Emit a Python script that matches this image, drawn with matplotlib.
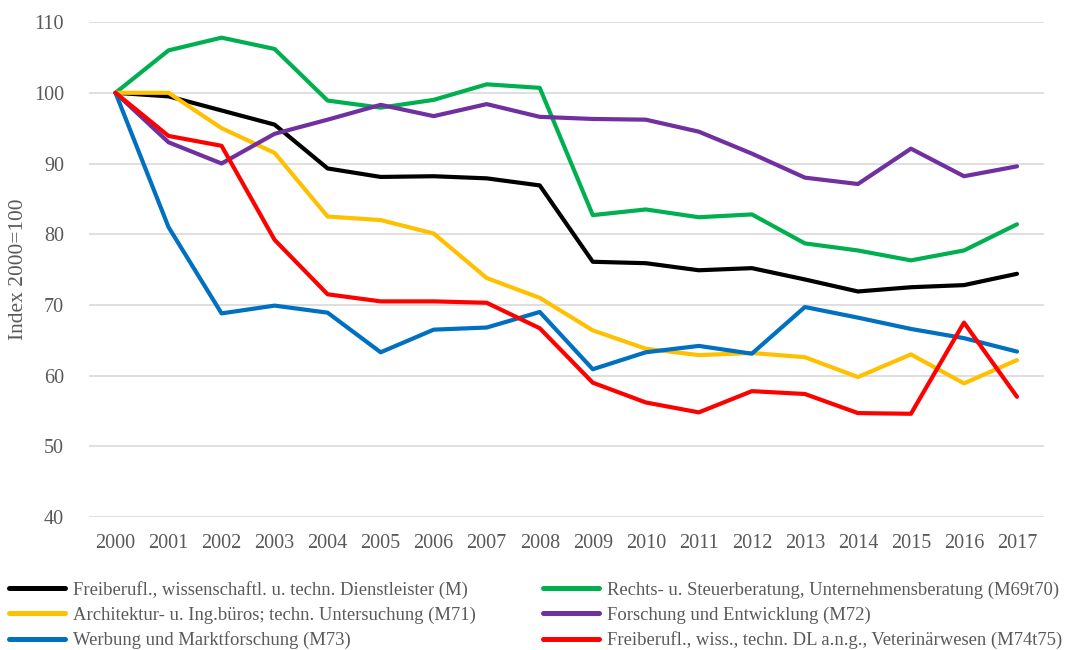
#!/usr/bin/env python3
"""Index 2000=100: freiberufliche, wissenschaftliche u. technische Dienstleister."""

import matplotlib.pyplot as plt
from matplotlib.lines import Line2D

plt.rcParams["font.family"] = ["Liberation Serif", "DejaVu Serif"]

YEARS = [str(y) for y in range(2000, 2018)]

M = [100, 99.5, 97.5, 95.5, 89.3, 88.1, 88.2, 87.9, 86.9,
     76.1, 75.9, 74.9, 75.2, 73.6, 71.9, 72.5, 72.8, 74.4]
M69T70 = [100, 106.0, 107.8, 106.2, 98.9, 97.9, 99.0, 101.2, 100.7,
          82.7, 83.5, 82.4, 82.8, 78.7, 77.7, 76.3, 77.7, 81.4]
M71 = [100, 100.0, 95.0, 91.5, 82.5, 82.0, 80.1, 73.8, 71.0,
       66.4, 63.8, 62.9, 63.2, 62.6, 59.8, 63.0, 58.9, 62.2]
M72 = [100, 93.0, 90.0, 94.2, 96.2, 98.3, 96.7, 98.4, 96.6,
       96.3, 96.2, 94.5, 91.4, 88.0, 87.1, 92.1, 88.2, 89.6]
M73 = [100, 81.0, 68.8, 69.9, 68.9, 63.3, 66.5, 66.8, 69.0,
       60.9, 63.3, 64.2, 63.1, 69.7, 68.2, 66.6, 65.3, 63.4]
M74T75 = [100, 93.9, 92.5, 79.2, 71.5, 70.5, 70.5, 70.3, 66.7,
          59.0, 56.2, 54.8, 57.8, 57.4, 54.7, 54.6, 67.5, 57.0]

# (values, legend, color)
SERIES = (
    (M, "Freiberufl., wissenschaftl. u. techn. Dienstleister (M)", "#000000"),
    (M69T70, "Rechts- u. Steuerberatung, Unternehmensberatung (M69t70)", "#00B050"),
    (M71, "Architektur- u. Ing.büros; techn. Untersuchung (M71)", "#FFC000"),
    (M72, "Forschung und Entwicklung (M72)", "#7030A0"),
    (M73, "Werbung und Marktforschung (M73)", "#0070C0"),
    (M74T75, "Freiberufl., wiss., techn. DL a.n.g., Veterinärwesen (M74t75)", "#FF0000"),
)

TEXT = "#595959"


def main() -> None:
    fig = plt.figure(figsize=(10.67, 6.5), dpi=100)
    ax = fig.add_axes([0.0834, 0.2046, 0.8946, 0.7614])

    x = list(range(len(YEARS)))
    handles = []
    for vals, label, color in SERIES:
        ax.plot(x, vals, color=color, linewidth=3.0, solid_joinstyle="round",
                solid_capstyle="round")
        handles.append(Line2D([], [], color=color, linewidth=3.6,
                              solid_capstyle="round", label=label))

    ax.set_xlim(-0.5, len(YEARS) - 0.5)
    ax.set_ylim(40, 110)
    ax.set_yticks(range(40, 111, 10))
    ax.set_xticks(x)
    ax.set_xticklabels(YEARS)
    ax.tick_params(axis="both", length=0, labelsize=14.5, colors=TEXT)
    ax.tick_params(axis="x", pad=12)
    ax.tick_params(axis="y", pad=18)
    ax.grid(True, axis="y", color="#D9D9D9", linewidth=1.2)
    ax.set_axisbelow(True)
    for s in ax.spines.values():
        s.set_visible(False)
    ax.set_ylabel("Index 2000=100", fontsize=15.4, color=TEXT, labelpad=4)

    # row-wise order as in the original (matplotlib fills columns first)
    order = [0, 2, 4, 1, 3, 5]
    leg = fig.legend([handles[i] for i in order],
                     [handles[i].get_label() for i in order],
                     loc="upper left", bbox_to_anchor=(0.0084, 1 - 581 / 650),
                     ncol=2, frameon=False, fontsize=13.4, handlelength=3.0,
                     handletextpad=0.43, columnspacing=3.6, labelspacing=0.4,
                     borderaxespad=0.0, borderpad=0.0)
    for t in leg.get_texts():
        t.set_color(TEXT)

    fig.savefig("out.png", dpi=100)


if __name__ == "__main__":
    main()
